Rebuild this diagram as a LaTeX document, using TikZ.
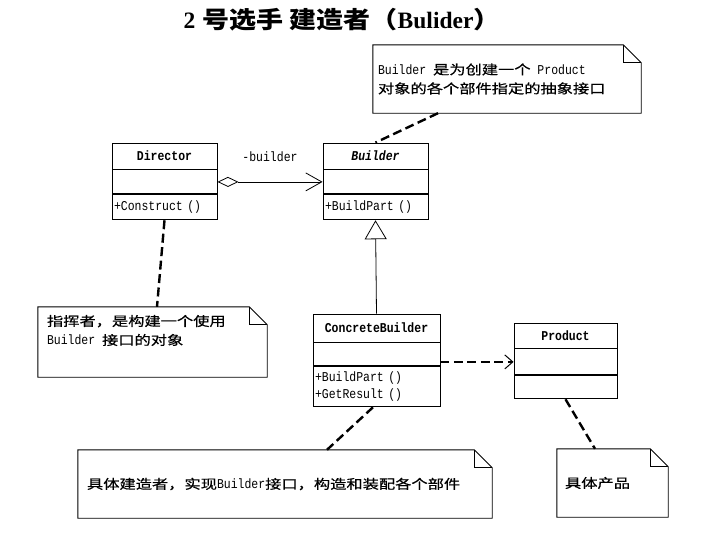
\documentclass[tikz,border=0pt]{standalone}
\usepackage{fontspec}
\setmonofont{Liberation Mono}[FakeStretch=0.85]
\newfontfamily\cjk{Noto Sans CJK SC}[FakeStretch=1.25,FakeBold=0.6]
\newfontfamily\titlezh{Noto Sans CJK SC}[FakeStretch=1.15]
\newfontfamily\titlerm{Liberation Serif}
\usepackage{tikz}
\usetikzlibrary{positioning}
\usetikzlibrary{arrows.meta}

\newcommand{\zh}[1]{{\fontsize{13}{19}\selectfont\cjk #1}}
\newcommand{\dogear}[1]{%
\draw[noteline] (#1.north west) -- ([xshift=-18pt]#1.north east) -- ([yshift=-18pt]#1.north east) -- (#1.south east) -- (#1.south west) -- cycle;
\draw[noteline] ([xshift=-18pt]#1.north east) |- ([yshift=-18pt]#1.north east);
}

\tikzset{classhead/.style={draw, line width=0.9pt, inner sep=0pt, align=center, font=\fontsize{13.5}{15}\selectfont\ttfamily\bfseries}}
\tikzset{classpart/.style={draw, line width=0.9pt, inner xsep=2pt, inner ysep=0pt, text width=#1, align=left, font=\fontsize{13.5}{17}\selectfont\ttfamily}}
\tikzset{notebox/.style={inner sep=0pt}}
\tikzset{notetext/.style={inner sep=0pt, align=left, font=\fontsize{13.5}{19}\selectfont\ttfamily}}
\tikzset{noteline/.style={line width=0.9pt}}
\tikzset{notelink/.style={line width=2.4pt, dash pattern=on 9pt off 4.5pt}}
\tikzset{rolelabel/.style={inner sep=0pt, font=\fontsize{13.5}{15}\selectfont\ttfamily}}
\tikzset{aggr/.style={line width=0.8pt, {Diamond[open,length=21pt,width=10pt]}-{Straight Barb[length=16pt,width=18pt]}}}
\tikzset{inherit/.style={line width=0.8pt, -{Triangle[open,length=19pt,width=22pt]}}}
\tikzset{depend/.style={notelink, -{Straight Barb[line width=1pt,length=8pt,width=14pt]}}}

\begin{document}
\begin{tikzpicture}[x=1pt,y=-1pt]
\useasboundingbox (0,0) rectangle (712,538);
\node[font=\fontsize{23.5}{26}\selectfont] (title) at (342,20) {{\titlerm\bfseries 2} {\titlezh\bfseries 号选手 建造者（}{\titlerm\bfseries Bulider}{\titlezh\bfseries ）}};
% classes
\node[classhead, minimum width=105pt, minimum height=26pt] (director) at (164.5,156) {Director};
\node[classpart=101pt, minimum height=24pt, below=0pt of director] (director-attr) {};
\node[classpart=101pt, minimum height=25pt, below=0pt of director-attr] (director-ops) {+Construct ()};
\node[classhead, minimum width=105pt, minimum height=26pt] (builder) at (375.5,156) {\itshape Builder};
\node[classpart=101pt, minimum height=24pt, below=0pt of builder] (builder-attr) {};
\node[classpart=101pt, minimum height=25pt, below=0pt of builder-attr] (builder-ops) {+BuildPart ()};
\node[classhead, minimum width=127pt, minimum height=28pt] (concrete) at (376.5,328) {ConcreteBuilder};
\node[classpart=123pt, minimum height=23pt, below=0pt of concrete] (concrete-attr) {};
\node[classpart=123pt, minimum height=40pt, below=0pt of concrete-attr] (concrete-ops) {+BuildPart ()\\+GetResult ()};
\node[classhead, minimum width=103pt, minimum height=25pt] (product) at (565.5,335.5) {Product};
\node[classpart=99pt, minimum height=26pt, below=0pt of product] (product-attr) {};
\node[classpart=99pt, minimum height=23pt, below=0pt of product-attr] (product-ops) {};
% notes
\node[notebox, minimum width=268pt, minimum height=68pt] (bnote) at (507,79) {};
\dogear{bnote}
\node[notetext, right=5pt of bnote.west] (bnote-text) {Builder \zh{是为创建一个} Product\\\zh{对象的各个部件指定的抽象接口}};
\node[notebox, minimum width=229pt, minimum height=70pt] (dnote) at (152.5,342) {};
\dogear{dnote}
\node[notetext, below right=8pt and 9pt of dnote.north west] (dnote-text) {\zh{指挥者，是构建一个使用}\\Builder \zh{接口的对象}};
\node[notebox, minimum width=414pt, minimum height=68pt] (cnote) at (285,484) {};
\dogear{cnote}
\node[notetext, right=9pt of cnote.west] (cnote-text) {\zh{具体建造者，实现}Builder\zh{接口，构造和装配各个部件}};
\node[notebox, minimum width=111pt, minimum height=68pt] (pnote) at (612.5,483) {};
\dogear{pnote}
\node[notetext, right=8pt of pnote.west] (pnote-text) {\zh{具体产品}};
% relations
\draw[aggr] (director-attr.east) -- node[rolelabel, above=20pt] (role) {-builder} (builder-attr.west);
\draw[inherit] (concrete.north) -- (builder-ops.south);
\draw[depend] (concrete-attr.east |- product-attr.west) -- (product-attr.west);
\draw[notelink] ([xshift=-69pt]bnote.south) -- (builder.north);
\draw[notelink] (director-ops.south) -- ([xshift=4.5pt]dnote.north);
\draw[notelink] ([xshift=-3.5pt]concrete-ops.south) -- ([xshift=42pt]cnote.north);
\draw[notelink] (product-ops.south) -- ([xshift=-17.5pt]pnote.north);
\end{tikzpicture}
\end{document}
